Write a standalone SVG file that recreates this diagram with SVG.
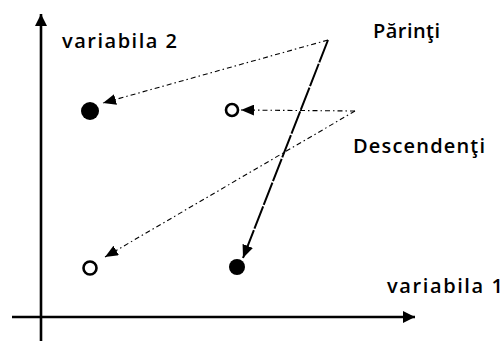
<svg xmlns="http://www.w3.org/2000/svg" width="504" height="341" viewBox="0 0 504 341">
  <style>
    .lbl { font-family: "Open Sans", "Liberation Sans", sans-serif; font-size: 20px; font-weight: 600; fill: #000; }
    .axis { stroke: #000; stroke-width: 2.6; fill: none; }
    .dot { stroke: #000; stroke-width: 1.1; fill: none; stroke-dasharray: 5 3 1.5 3; }
    .solid { stroke: #000; stroke-width: 2; fill: none; stroke-dasharray: 24 1.5; }
    .full { fill: #000; }
    .open { fill: #fff; stroke: #000; stroke-width: 2.6; }
  </style>
  <defs>
    <marker id="ah" markerUnits="userSpaceOnUse" viewBox="0 0 13 11" refX="13" refY="5.5" markerWidth="13" markerHeight="11" orient="auto">
      <path d="M0,0 L13,5.5 L0,11 Z" fill="#000"/>
    </marker>
    <marker id="axh" markerUnits="userSpaceOnUse" viewBox="0 0 12 12" refX="12" refY="6" markerWidth="12" markerHeight="12" orient="auto">
      <path d="M0,0 L12,6 L0,12 Z" fill="#000"/>
    </marker>
  </defs>
  <rect width="504" height="341" fill="#fff"/>

  <g id="axes">
    <line class="axis" x1="41" y1="341" x2="41" y2="14" marker-end="url(#axh)"/>
    <line class="axis" x1="12" y1="317" x2="415" y2="317" marker-end="url(#axh)"/>
  </g>

  <g id="connectors">
    <line class="dot" x1="328" y1="40" x2="103" y2="103" marker-end="url(#ah)"/>
    <line class="solid" x1="328" y1="40" x2="243" y2="258" marker-end="url(#ah)"/>
    <line class="dot" x1="355" y1="111" x2="241" y2="110" marker-end="url(#ah)"/>
    <line class="dot" x1="355" y1="111" x2="105" y2="257" marker-end="url(#ah)"/>
  </g>

  <g id="parent1"><circle class="full" cx="90" cy="111" r="9"/></g>
  <g id="parent2"><circle class="full" cx="237" cy="267" r="8"/></g>
  <g id="child1"><circle class="open" cx="232" cy="110" r="6"/></g>
  <g id="child2"><circle class="open" cx="90" cy="268" r="6.5"/></g>

  <g id="labels">
    <text class="lbl" x="62" y="48" textLength="115" lengthAdjust="spacing">variabila 2</text>
    <text class="lbl" x="373" y="38" textLength="67" lengthAdjust="spacing">Părinţi</text>
    <text class="lbl" x="353" y="153" textLength="132" lengthAdjust="spacing">Descendenţi</text>
    <text class="lbl" x="387" y="293" textLength="116" lengthAdjust="spacing">variabila 1</text>
  </g>
</svg>
